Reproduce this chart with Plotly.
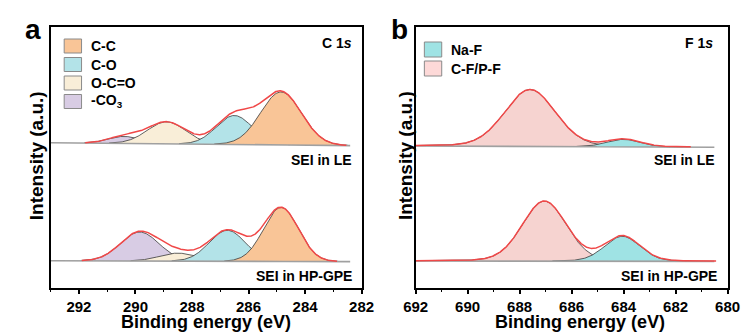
import numpy as np
import plotly.graph_objects as go

# ---------------- data ----------------
# y unit = pixels above the bottom of the plot frame (arbitrary intensity units)
# Panel a : C 1s
a_species = ["C-C", "C-O", "O-C=O", "-CO<sub>3</sub>"]
a_colors = ["#F9C597", "#B3E3E8", "#F9EED8", "#D8CCE4"]
a_le_center = [284.85, 286.5, 288.9, 290.4]
a_le_height = [53, 29, 22, 7]
a_le_fwhm = [1.7, 1.5, 1.6, 1.3]
a_le_baseline = [145.3, 142.3]        # at 293 eV and 282 eV
a_gpe_center = [284.85, 286.75, 288.5, 289.85]
a_gpe_height = [54, 31, 8, 29]
a_gpe_fwhm = [1.45, 1.5, 1.5, 1.6]
a_gpe_baseline = [27.3, 26.3]
a_xrange = [293, 282]
a_ticks = [292, 290, 288, 286, 284, 282]
a_raw_range = [293, 282.4]

# Panel b : F 1s
b_species = ["Na-F", "C-F/P-F"]
b_colors = ["#9FE3E4", "#F6D3D0"]
b_legend_colors = ["#9FE3E4", "#FDD9D8"]
b_le_center = [684.0, 687.6]
b_le_height = [7.5, 57]
b_le_fwhm = [1.5, 2.3]
b_le_baseline = [142.0, 140.7]        # at 692 eV and 680 eV
b_gpe_center = [684.05, 687.05]
b_gpe_height = [25, 60]
b_gpe_fwhm = [1.6, 2.0]
b_gpe_baseline = [27.0, 26.6]
b_xrange = [692, 680]
b_ticks = [692, 690, 688, 686, 684, 682, 680]
b_raw_range = [692, 680.5]
b_eta = 0.12   # Lorentzian fraction of the fitted line shape

FONT = "Liberation Sans, Arial, sans-serif"
W, H = 756, 336

fig = go.Figure()


def peak(x, c, h, w, eta=0.0):
    g = np.exp(-4 * np.log(2) * ((x - c) / w) ** 2)
    l = 1.0 / (1.0 + 4 * ((x - c) / w) ** 2)
    return h * ((1 - eta) * g + eta * l)


def add_spectrum(xa, ya, xr, base, centers, heights, fwhms, colors, order, raw_range, eta=0.0):
    x = np.linspace(xr[0], xr[1], 900)
    bl = base[0] + (base[1] - base[0]) * (x - xr[0]) / (xr[1] - xr[0])
    total = np.zeros_like(x)
    for i in order:
        g = peak(x, centers[i], heights[i], fwhms[i], eta)
        total += g
        m = g > 0.25
        xs = x[m]
        fig.add_trace(go.Scatter(
            x=np.concatenate([xs, xs[::-1]]),
            y=np.concatenate([bl[m] + g[m], bl[m][::-1]]),
            fill="toself", fillcolor=colors[i], mode="lines",
            line=dict(width=0), xaxis=xa, yaxis=ya, hoverinfo="skip", showlegend=False))
        fig.add_trace(go.Scatter(
            x=xs, y=bl[m] + g[m], mode="lines", line=dict(color="#3a3a3a", width=0.8),
            xaxis=xa, yaxis=ya, hoverinfo="skip", showlegend=False))
    rm = (x <= raw_range[0]) & (x >= raw_range[1])
    fig.add_trace(go.Scatter(
        x=x[rm], y=bl[rm], mode="lines", line=dict(color="#a0a0a0", width=1.6),
        xaxis=xa, yaxis=ya, hoverinfo="skip", showlegend=False))
    em = total > 0.3
    fig.add_trace(go.Scatter(
        x=x[em], y=bl[em] + total[em], mode="lines", line=dict(color="#F04848", width=1.5),
        xaxis=xa, yaxis=ya, hoverinfo="skip", showlegend=False))


add_spectrum("x", "y", a_xrange, a_le_baseline, a_le_center, a_le_height, a_le_fwhm,
             a_colors, [3, 2, 1, 0], a_raw_range)
add_spectrum("x", "y", a_xrange, a_gpe_baseline, a_gpe_center, a_gpe_height, a_gpe_fwhm,
             a_colors, [3, 2, 1, 0], a_raw_range)
add_spectrum("x2", "y2", b_xrange, b_le_baseline, b_le_center, b_le_height, b_le_fwhm,
             b_colors, [1, 0], b_raw_range, b_eta)
add_spectrum("x2", "y2", b_xrange, b_gpe_baseline, b_gpe_center, b_gpe_height, b_gpe_fwhm,
             b_colors, [1, 0], b_raw_range, b_eta)

# ---------------- layout ----------------
pa = (39, 361)
pb = (417, 740)
ytop, ybot = 27, 288
ydom = [1 - ybot / H, 1 - ytop / H]

axis_common = dict(
    showline=True, linecolor="black", linewidth=1.8, mirror=True,
    showgrid=False, zeroline=False,
)

fig.update_layout(
    width=W, height=H, margin=dict(l=0, r=0, t=0, b=0),
    paper_bgcolor="white", plot_bgcolor="white",
    showlegend=False,
    xaxis=dict(domain=[pa[0] / W, pa[1] / W], range=a_xrange, tickvals=a_ticks,
               ticks="outside", ticklen=4, tickwidth=1.5, tickcolor="black",
               minor=dict(dtick=1, ticks="outside", ticklen=2.5, tickwidth=1.2, tickcolor="black"),
               tickfont=dict(family=FONT, size=15, color="black", weight="bold"),
               anchor="y", **axis_common),
    yaxis=dict(domain=ydom, range=[0, ybot - ytop], showticklabels=False, ticks="",
               anchor="x", **axis_common),
    xaxis2=dict(domain=[pb[0] / W, pb[1] / W], range=b_xrange, tickvals=b_ticks,
                ticks="outside", ticklen=4, tickwidth=1.5, tickcolor="black",
                minor=dict(dtick=1, ticks="outside", ticklen=2.5, tickwidth=1.2, tickcolor="black"),
                tickfont=dict(family=FONT, size=15, color="black", weight="bold"),
                anchor="y2", **axis_common),
    yaxis2=dict(domain=ydom, range=[0, ybot - ytop], showticklabels=False, ticks="",
                anchor="x2", **axis_common),
)

shapes = []
annotations = []


def px(xp):
    return xp / W


def py(yp):
    return 1 - yp / H


def text(x, y, s, size, xanchor="left", angle=0):
    annotations.append(dict(
        x=px(x), y=py(y), xref="paper", yref="paper", text=s, showarrow=False,
        xanchor=xanchor, yanchor="middle", textangle=angle,
        font=dict(family=FONT, size=size, color="black", weight="bold")))


# legends
for i, name in enumerate(a_species):
    y0 = 39 + i * 18.5
    shapes.append(dict(type="rect", xref="paper", yref="paper",
                       x0=px(53), x1=px(71), y0=py(y0), y1=py(y0 + 14),
                       fillcolor=a_colors[i], line=dict(color="#8a8a8a", width=1)))
    text(79, y0 + 7, name, 14)

for i, name in enumerate(b_species):
    y0 = 42 + i * 19
    shapes.append(dict(type="rect", xref="paper", yref="paper",
                       x0=px(426), x1=px(444), y0=py(y0), y1=py(y0 + 15),
                       fillcolor=b_legend_colors[i], line=dict(color="#8a8a8a", width=1)))
    text(452, y0 + 7.5, name, 14)

# panel letters
text(10, 29, "a", 28)
text(389, 29, "b", 28)

# core level labels
text(353, 43, "C 1<i>s</i>", 14, xanchor="right")
text(727, 43, "F 1<i>s</i>", 14, xanchor="right")

# sample labels
text(353, 160, "SEI in LE", 14, xanchor="right")
text(729, 160, "SEI in LE", 14, xanchor="right")
text(353, 276, "SEI in HP-GPE", 14, xanchor="right")
text(731, 276, "SEI in HP-GPE", 14, xanchor="right")

# axis titles
text(200, 322, "Binding energy (eV)", 18, xanchor="center")
text(587, 322, "Binding energy (eV)", 18, xanchor="center")
for xt in (24, 406):
    annotations.append(dict(x=px(xt), y=py(156), xref="paper", yref="paper",
                            text="Intensity (a.u.)", showarrow=False, textangle=-90,
                            xanchor="center", yanchor="middle",
                            font=dict(family=FONT, size=19, color="black", weight="bold")))

fig.update_layout(shapes=shapes, annotations=annotations)
fig.write_html(
    "out.html",
    post_script="document.body.style.margin='0';document.body.style.padding='0';"
                "document.documentElement.style.overflow='hidden';",
)
